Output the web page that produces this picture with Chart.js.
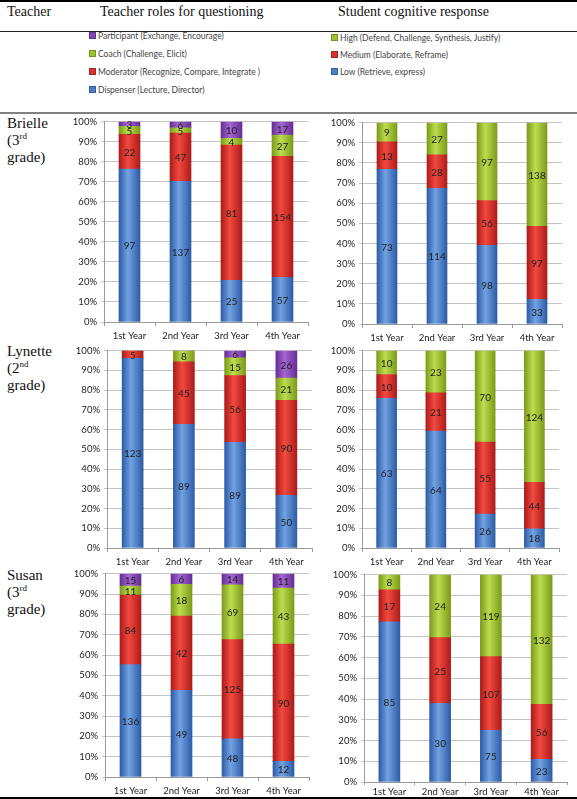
<!DOCTYPE html>
<html lang="en">
<head>
<meta charset="UTF-8">
<title>Teacher roles and student responses</title>
<script src="https://cdn.jsdelivr.net/npm/chart.js@4.4.1/dist/chart.umd.min.js"></script>
<style>
  body { margin: 0; background: #fff; }
  #page { position: relative; width: 577px; height: 799px; overflow: hidden; font-family: 'Liberation Serif', serif; color: #111; }
  .rule { position: absolute; left: 0; width: 577px; }
  .head { position: absolute; top: 4px; font-size: 14px; white-space: nowrap; }
  .name { position: absolute; left: 7px; font-size: 15px; line-height: 17px; }
  .name sup { font-size: 9px; vertical-align: 6px; line-height: 0; }
  .legend { position: absolute; font-family: Lato, sans-serif; font-size: 8.5px; color: #444; }
  .legend div { position: absolute; white-space: nowrap; height: 10px; line-height: 10px; }
  .legend span { display: inline-block; width: 5px; height: 5px; margin-right: 2px; border: 1px solid rgba(0,0,0,0.25); vertical-align: 0px; }
  canvas { position: absolute; }
</style>
</head>
<body>
<div id="page">
  <div class="rule" style="top:0;height:2px;background:#000"></div>
  <div class="head" style="left:7px">Teacher</div>
  <div class="head" style="left:100px">Teacher roles for questioning</div>
  <div class="head" style="left:338px">Student cognitive response</div>
  <div class="rule" style="top:31px;height:1px;background:#222"></div>
  <div class="legend" id="roleLegend" style="left:89px;top:0"></div>
  <div class="legend" id="responseLegend" style="left:331px;top:0"></div>
  <div class="rule" style="top:112px;height:2px;background:#808080"></div>

  <div class="name" style="top:115px">Brielle<br>(3<sup>rd</sup><br>grade)</div>
  <div class="name" style="top:343px">Lynette<br>(2<sup>nd</sup><br>grade)</div>
  <div class="name" style="top:567px">Susan<br>(3<sup>rd</sup><br>grade)</div>

  <canvas id="brielleRoles" width="245" height="232" style="left:64px;top:112px"></canvas>
  <canvas id="brielleResponse" width="241" height="233" style="left:322px;top:113px"></canvas>
  <canvas id="lynetteRoles" width="246" height="229" style="left:67px;top:341px"></canvas>
  <canvas id="lynetteResponse" width="238" height="229" style="left:322px;top:341px"></canvas>
  <canvas id="susanRoles" width="245" height="235" style="left:65px;top:564px"></canvas>
  <canvas id="susanResponse" width="244" height="233" style="left:324px;top:565px"></canvas>

  <div class="rule" style="top:797px;height:2px;background:#000"></div>
</div>

<script>
// categories
const years = ['1st Year', '2nd Year', '3rd Year', '4th Year'];
const roleLabels = ['Dispenser (Lecture, Director)', 'Moderator (Recognize, Compare, Integrate )', 'Coach (Challenge, Elicit)', 'Participant (Exchange, Encourage)'];
const responseLabels = ['Low (Retrieve, express)', 'Medium (Elaborate, Reframe)', 'High (Defend, Challenge, Synthesis, Justify)'];

// counts (bars are stacked to 100%)
const brielleDispenser = [97, 137, 25, 57];
const brielleModerator = [22, 47, 81, 154];
const brielleCoach = [5, 5, 4, 27];
const brielleParticipant = [3, 6, 10, 17];

const brielleLow = [73, 114, 98, 33];
const brielleMedium = [13, 28, 56, 97];
const brielleHigh = [9, 27, 97, 138];

const lynetteDispenser = [123, 89, 89, 50];
const lynetteModerator = [5, 45, 56, 90];
const lynetteCoach = [0, 8, 15, 21];
const lynetteParticipant = [0, 0, 6, 26];

const lynetteLow = [63, 64, 26, 18];
const lynetteMedium = [10, 21, 55, 44];
const lynetteHigh = [10, 23, 70, 124];

const susanDispenser = [136, 49, 48, 12];
const susanModerator = [84, 42, 125, 90];
const susanCoach = [11, 18, 69, 43];
const susanParticipant = [15, 6, 14, 11];

const susanLow = [85, 30, 75, 23];
const susanMedium = [17, 25, 107, 56];
const susanHigh = [8, 24, 119, 132];

// colours: edge / highlight / flat
const blue = { edge: '#2d5ca6', light: '#72a2e2', mid: '#4a7fc8' };
const red = { edge: '#ae1b19', light: '#f14a40', mid: '#d9322c' };
const green = { edge: '#7b9c1a', light: '#bddc4e', mid: '#9dc22f' };
const purple = { edge: '#672d95', light: '#a466d2', mid: '#8447b6' };
const roleColors = [blue, red, green, purple];
const responseColors = [blue, red, green];

// legends (top rows list the last series first, like the original)
function buildLegend(id, labels, colors, rows) {
  const box = document.getElementById(id);
  for (let i = labels.length - 1, r = 0; i >= 0; i--, r++) {
    const d = document.createElement('div');
    d.style.top = rows[r] + 'px';
    d.innerHTML = '<span style="background:' + colors[i].mid + '"></span>' + labels[i];
    box.appendChild(d);
  }
}
buildLegend('roleLegend', roleLabels, roleColors, [31, 49, 67, 85]);
buildLegend('responseLegend', responseLabels, responseColors, [33, 50, 67]);

function barFill(col, half) {
  return function (c) {
    const chart = c.chart;
    const xs = chart.scales.x;
    if (!xs || c.dataIndex === undefined || !chart.chartArea) return col.mid;
    const cx = xs.getPixelForValue(c.dataIndex);
    const g = chart.ctx.createLinearGradient(cx - half, 0, cx + half, 0);
    g.addColorStop(0, col.edge);
    g.addColorStop(0.42, col.light);
    g.addColorStop(1, col.edge);
    return g;
  };
}

// count labels in the middle of every segment
const countLabels = {
  id: 'countLabels',
  afterDatasetsDraw(chart) {
    const ctx = chart.ctx;
    ctx.save();
    ctx.font = '10px Lato, sans-serif';
    ctx.fillStyle = '#222';
    ctx.textAlign = 'center';
    ctx.textBaseline = 'middle';
    chart.data.datasets.forEach((ds, i) => {
      chart.getDatasetMeta(i).data.forEach((bar, j) => {
        const n = ds.counts[j];
        if (!n) return;
        ctx.fillText(String(n), bar.x, (bar.y + bar.base) / 2 + 1);
      });
    });
    ctx.restore();
  }
};

function makeChart(id, series, labels, colors, thick, axisH) {
  const totals = years.map((_, j) => series.reduce((s, a) => s + a[j], 0));
  const datasets = series.map((counts, i) => ({
    label: labels[i],
    counts: counts,
    data: counts.map((v, j) => v / totals[j] * 100),
    backgroundColor: barFill(colors[i], thick / 2),
    borderWidth: 0,
    barThickness: thick
  }));
  return new Chart(document.getElementById(id), {
    type: 'bar',
    data: { labels: years, datasets: datasets },
    options: {
      responsive: false,
      devicePixelRatio: 1,
      animation: false,
      layout: { padding: { top: 8, right: 1, left: 0, bottom: 0 } },
      plugins: { legend: { display: false }, tooltip: { enabled: false } },
      scales: {
        x: {
          stacked: true,
          grid: { offset: true, drawOnChartArea: false, tickLength: axisH > 20 ? 4 : 3, color: '#9a9a9a' },
          border: { color: '#9a9a9a' },
          ticks: { padding: axisH > 20 ? 4 : 1, color: '#222', font: { family: 'Lato', size: 9.5 } },
          afterFit: s => { s.height = axisH; }
        },
        y: {
          stacked: true,
          min: 0,
          max: 100,
          grid: { color: '#c4c4c4', tickLength: 3 },
          border: { color: '#9a9a9a' },
          ticks: { stepSize: 10, padding: 4, color: '#222', font: { family: 'Lato', size: 9.5 }, callback: v => v + '%' },
          afterFit: s => { s.width = 40; }
        }
      }
    },
    plugins: [countLabels]
  });
}

makeChart('brielleRoles', [brielleDispenser, brielleModerator, brielleCoach, brielleParticipant], roleLabels, roleColors, 21, 22);
makeChart('brielleResponse', [brielleLow, brielleMedium, brielleHigh], responseLabels, responseColors, 20, 22);
makeChart('lynetteRoles', [lynetteDispenser, lynetteModerator, lynetteCoach, lynetteParticipant], roleLabels, roleColors, 21, 22);
makeChart('lynetteResponse', [lynetteLow, lynetteMedium, lynetteHigh], responseLabels, responseColors, 20, 22);
makeChart('susanRoles', [susanDispenser, susanModerator, susanCoach, susanParticipant], roleLabels, roleColors, 21, 22);
makeChart('susanResponse', [susanLow, susanMedium, susanHigh], responseLabels, responseColors, 21, 16);
</script>
</body>
</html>
